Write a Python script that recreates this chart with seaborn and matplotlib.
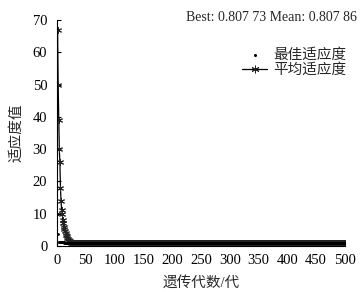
import numpy as np
import pandas as pd
import matplotlib
matplotlib.use("Agg")
import matplotlib.pyplot as plt
import seaborn as sns

# valores (primeiras gerações) e patamar final
mean_head = [67, 50, 39, 30, 26, 18, 14, 11, 10, 8.2, 7.0, 6.0, 5.2, 4.5, 4.0,
             3.5, 3.0, 2.6, 2.2, 1.9, 1.6, 1.4, 1.2, 1.1, 1.0, 0.95, 0.9, 0.86,
             0.83, 0.81]
best_head = [10, 3.7, 1.3, 1.25, 1.2, 1.2, 1.2, 1.15, 1.15, 1.1, 1.1, 1.1,
             1.05, 1.05, 1.0, 1.0, 0.95, 0.95, 0.9, 0.9, 0.88, 0.86, 0.84,
             0.82, 0.81]
best_final = 0.80773
mean_final = 0.80786
n_gen = 500

best = best_head + [best_final] * (n_gen - len(best_head))
mean = mean_head + [mean_final] * (n_gen - len(mean_head))
df = pd.DataFrame({"gen": np.arange(1, n_gen + 1), "best": best, "mean": mean})

sns.set_style("ticks")
plt.rcParams['font.family'] = ['Liberation Serif', 'Noto Sans CJK SC']
plt.rcParams['axes.unicode_minus'] = False

fig = plt.figure(figsize=(3.64, 2.92), dpi=100)
ax = fig.add_axes([0.1566, 0.1575, 0.791, 0.774])

sns.lineplot(data=df, x="gen", y="mean", ax=ax, color="black", linewidth=0.9,
             marker=(6, 2, 0), markersize=5, markeredgewidth=0.7,
             markeredgecolor="#222222", label="平均适应度")
sns.scatterplot(data=df, x="gen", y="best", ax=ax, color="black", s=4,
                linewidth=0, label="最佳适应度", zorder=3)

ax.set_xlim(0, 500)
ax.set_ylim(0, 70)
ax.set_xticks(range(0, 501, 50))
ax.set_yticks(range(0, 71, 10))
ax.tick_params(direction="in", length=3, width=0.8, labelsize=10.5,
               colors="black")
ax.tick_params(axis="x", pad=6)
ax.tick_params(axis="y", pad=7)
for s in ["top", "right"]:
    ax.spines[s].set_visible(False)
for s in ["left", "bottom"]:
    ax.spines[s].set_linewidth(0.8)
    ax.spines[s].set_color("black")

ax.set_xlabel("遗传代数/代", fontsize=10.5, labelpad=6)
ax.set_ylabel("适应度值", fontsize=10.5, labelpad=7)

fig.text(0.51, 0.94, "Best: 0.807 73 Mean: 0.807 86", fontsize=10, va="center")

h, l = ax.get_legend_handles_labels()
ax.legend(h[::-1], l[::-1], loc="upper right", bbox_to_anchor=(1.04, 0.92),
          frameon=False, fontsize=10.5, handlelength=1.7, handletextpad=0.4,
          borderpad=0.2, labelspacing=0.1, markerscale=1.1)

fig.savefig("out.png", dpi=100)
